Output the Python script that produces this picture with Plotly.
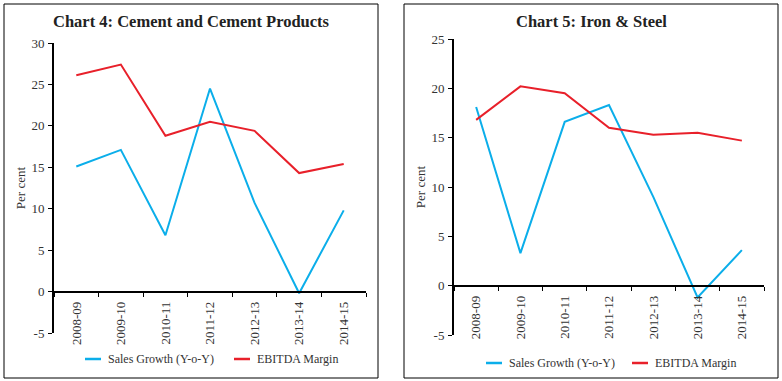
import plotly.graph_objects as go

years = ["2008-09", "2009-10", "2010-11", "2011-12", "2012-13", "2013-14", "2014-15"]

cement_sales = [15.1, 17.1, 6.8, 24.5, 10.7, -0.2, 9.8]
cement_ebitda = [26.1, 27.4, 18.8, 20.5, 19.4, 14.3, 15.4]

steel_sales = [18.1, 3.3, 16.6, 18.3, 9.0, -1.2, 3.6]
steel_ebitda = [16.8, 20.2, 19.5, 16.0, 15.3, 15.5, 14.7]

left_ticks = [-5, 0, 5, 10, 15, 20, 25, 30]
right_ticks = [-5, 0, 5, 10, 15, 20, 25]

left_title = "Chart 4: Cement and Cement Products"
right_title = "Chart 5: Iron & Steel"
sales_name = "Sales Growth (Y-o-Y)"
ebitda_name = "EBITDA Margin"

BLUE = "#0BAEEA"
RED = "#E8202A"
W, H = 782, 381
FONT = "Liberation Serif"
TXT = "#333333"


def px(x):
    return x / W


def py(y):
    return 1 - y / H


fig = go.Figure()

fig.add_trace(go.Scatter(x=years, y=cement_sales, name=sales_name, mode="lines",
                         line=dict(color=BLUE, width=2), xaxis="x", yaxis="y"))
fig.add_trace(go.Scatter(x=years, y=cement_ebitda, name=ebitda_name, mode="lines",
                         line=dict(color=RED, width=2), xaxis="x", yaxis="y"))
fig.add_trace(go.Scatter(x=years, y=steel_sales, name=sales_name, mode="lines",
                         line=dict(color=BLUE, width=2), xaxis="x2", yaxis="y2"))
fig.add_trace(go.Scatter(x=years, y=steel_ebitda, name=ebitda_name, mode="lines",
                         line=dict(color=RED, width=2), xaxis="x2", yaxis="y2"))

tickfont = dict(family=FONT, size=13, color=TXT)

xcommon = dict(type="category", showline=True, linecolor="black", linewidth=2,
               ticks="outside", tickson="boundaries", ticklen=4, tickcolor="black",
               tickangle=-90, tickfont=tickfont, showgrid=False, zeroline=False,
               anchor="free", fixedrange=True, automargin=False, range=[-0.5, 6.5],
               ticklabelstandoff=4)
ycommon = dict(showline=True, linecolor="black", linewidth=2, ticks="outside",
               ticklen=4, tickcolor="black", tickfont=tickfont, showgrid=False,
               zeroline=False, automargin=False, ticklabelstandoff=1,
               title=dict(text="Per cent", font=dict(family=FONT, size=13, color=TXT),
                          standoff=3))

L_x0, L_x1, L_top, L_bot = 54, 366, 43, 333
R_x0, R_x1, R_top, R_bot = 454, 764, 39, 335
L_range = [-5, 30]
R_range = [-5, 25]


def zero_pos(top, bot, rng):
    y0 = py(bot)
    y1 = py(top)
    return y0 + (0 - rng[0]) / (rng[1] - rng[0]) * (y1 - y0)


def legend_items(x_line, x_line2, y):
    shapes = [
        dict(type="line", xref="paper", yref="paper", x0=px(x_line), x1=px(x_line + 16),
             y0=py(y), y1=py(y), line=dict(color=BLUE, width=2.5)),
        dict(type="line", xref="paper", yref="paper", x0=px(x_line2), x1=px(x_line2 + 16),
             y0=py(y), y1=py(y), line=dict(color=RED, width=2.5)),
    ]
    annots = [
        dict(text=sales_name, x=px(x_line + 21), y=py(y), xref="paper", yref="paper",
             showarrow=False, xanchor="left", yanchor="middle",
             font=dict(family=FONT, size=12, color=TXT)),
        dict(text=ebitda_name, x=px(x_line2 + 21), y=py(y), xref="paper", yref="paper",
             showarrow=False, xanchor="left", yanchor="middle",
             font=dict(family=FONT, size=12, color=TXT)),
    ]
    return shapes, annots


s1, a1 = legend_items(85, 234, 359)
s2, a2 = legend_items(486, 632, 363)

fig.update_layout(
    width=W, height=H,
    margin=dict(l=0, r=0, t=0, b=0, autoexpand=False),
    paper_bgcolor="white", plot_bgcolor="white",
    showlegend=False,
    xaxis=dict(**xcommon, domain=[px(L_x0), px(L_x1)],
               position=zero_pos(L_top, L_bot, L_range)),
    yaxis=dict(**ycommon, domain=[py(L_bot), py(L_top)], range=L_range, anchor="x",
               tickvals=left_ticks, ticktext=[str(v) for v in left_ticks]),
    xaxis2=dict(**xcommon, domain=[px(R_x0), px(R_x1)],
                position=zero_pos(R_top, R_bot, R_range)),
    yaxis2=dict(**ycommon, domain=[py(R_bot), py(R_top)], range=R_range, anchor="x2",
                tickvals=right_ticks, ticktext=[str(v) for v in right_ticks]),
    shapes=[
        dict(type="rect", xref="paper", yref="paper", x0=px(4), x1=px(378),
             y0=py(378), y1=py(4), line=dict(color="black", width=1)),
        dict(type="rect", xref="paper", yref="paper", x0=px(404), x1=px(778),
             y0=py(378), y1=py(4), line=dict(color="black", width=1)),
    ] + s1 + s2,
    annotations=[
        dict(text="<b>" + left_title + "</b>", x=px(191), y=py(22), xref="paper", yref="paper",
             showarrow=False, xanchor="center", yanchor="middle",
             font=dict(family=FONT, size=16.5, color="#222222")),
        dict(text="<b>" + right_title + "</b>", x=px(591), y=py(22), xref="paper", yref="paper",
             showarrow=False, xanchor="center", yanchor="middle",
             font=dict(family=FONT, size=16.5, color="#222222")),
    ] + a1 + a2,
)

fig.write_html("out.html", config={"displayModeBar": False},
               post_script="document.body.style.margin='0';")
